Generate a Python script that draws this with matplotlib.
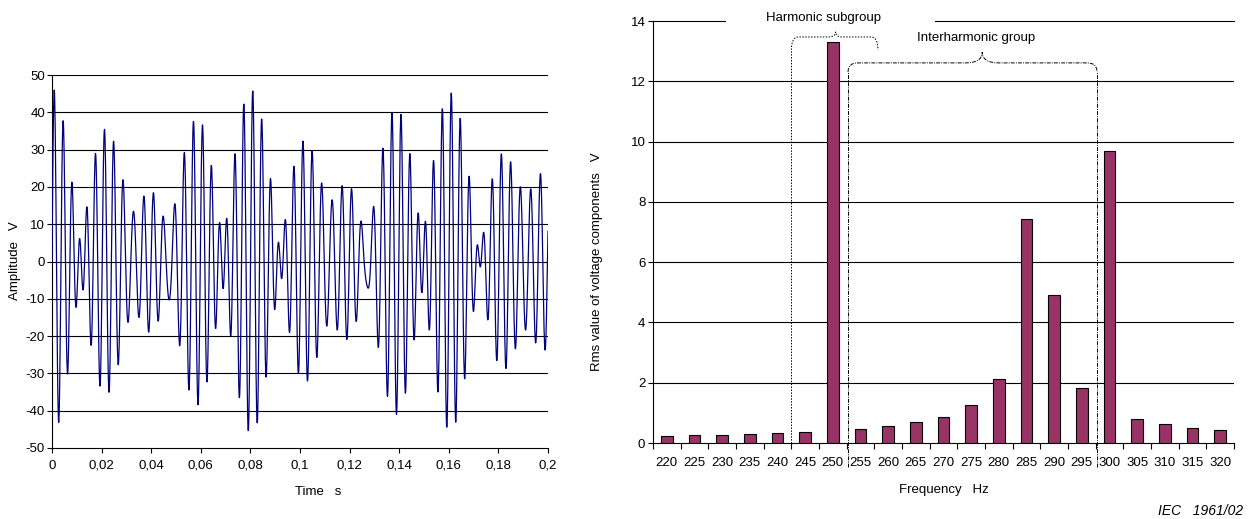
import numpy as np
import matplotlib
matplotlib.use("Agg")
import matplotlib.pyplot as plt
from matplotlib.path import Path
from matplotlib.patches import PathPatch

plt.rcParams['font.family'] = ['Liberation Sans', 'DejaVu Sans']
plt.rcParams['axes.unicode_minus'] = False

# ---- waveform components (frequency in Hz, rms value in V) ----
component_freqs = [250.0, 287.0, 300.0]
component_rms = [13.3, 9.75, 9.7]
t_end = 0.2
t_step = 0.0001

# ---- spectrum (5 Hz bins) ----
freq_bins = [220, 225, 230, 235, 240, 245, 250, 255, 260, 265, 270,
             275, 280, 285, 290, 295, 300, 305, 310, 315, 320]
rms_values = [0.24, 0.25, 0.28, 0.31, 0.33, 0.37, 13.31, 0.48, 0.56, 0.69, 0.87,
              1.25, 2.12, 7.44, 4.91, 1.83, 9.68, 0.80, 0.62, 0.51, 0.42]

time_ticks = [0, 0.02, 0.04, 0.06, 0.08, 0.1, 0.12, 0.14, 0.16, 0.18, 0.2]
time_labels = ["0", "0,02", "0,04", "0,06", "0,08", "0,1", "0,12", "0,14",
               "0,16", "0,18", "0,2"]

t = np.arange(0, t_end + t_step / 2, t_step)
u = np.zeros_like(t)
for f, r in zip(component_freqs, component_rms):
    u += np.sqrt(2) * r * np.sin(2 * np.pi * f * t)

FS = 9.5
fig = plt.figure(figsize=(12.5, 5.19), dpi=100)

# ---------------- time signal ----------------
ax1 = fig.add_axes([52 / 1250, (519 - 448) / 519, 496 / 1250, 373 / 519])
for yv in range(-40, 51, 10):
    ax1.axhline(yv, color='black', lw=0.8, zorder=1)
ax1.plot(t, u, color='#000080', lw=0.9, zorder=3)
ax1.set_xlim(0, 0.2)
ax1.set_ylim(-50, 50)
ax1.set_yticks(range(-50, 51, 10))
ax1.set_xticks(time_ticks)
ax1.set_xticklabels(time_labels)
for s in ['top', 'right']:
    ax1.spines[s].set_visible(False)
for s in ['left', 'bottom']:
    ax1.spines[s].set_linewidth(0.8)
ax1.tick_params(axis='both', direction='out', length=3.5, width=0.8, labelsize=FS)
ax1.tick_params(axis='x', pad=5)
ax1.tick_params(axis='y', pad=1.5)
fig.text(15 / 1250, 1 - 261 / 519, "Amplitude   V", rotation=90,
         ha='center', va='center', fontsize=FS)
fig.text(318 / 1250, 1 - 492 / 519, "Time   s", ha='center', va='center', fontsize=FS)

# ---------------- spectrum ----------------
ax2 = fig.add_axes([653 / 1250, (519 - 443) / 519, 581 / 1250, 422 / 519])
xpos = np.arange(len(freq_bins))
for yv in range(2, 13, 2):
    ax2.axhline(yv, color='black', lw=0.8, zorder=1)
ax2.plot([-0.5, 2.1], [14, 14], color='black', lw=0.8, clip_on=False, zorder=1)
ax2.plot([9.69, len(freq_bins) - 0.5], [14, 14], color='black', lw=0.8,
         clip_on=False, zorder=1)
ax2.bar(xpos, rms_values, width=0.42, color='#993366', edgecolor='black',
        linewidth=0.8, zorder=3)
ax2.set_xlim(-0.5, len(freq_bins) - 0.5)
ax2.set_ylim(0, 14)
ax2.set_yticks(range(0, 15, 2))
ax2.set_xticks(xpos)
ax2.set_xticklabels([str(f) for f in freq_bins])
ax2.set_xticks(np.arange(-0.5, len(freq_bins)), minor=True)
for s in ['top', 'right']:
    ax2.spines[s].set_visible(False)
for s in ['left', 'bottom']:
    ax2.spines[s].set_linewidth(0.8)
ax2.tick_params(axis='x', which='major', length=0, pad=10, labelsize=FS)
ax2.tick_params(axis='x', which='minor', direction='out', length=4, width=0.8)
ax2.tick_params(axis='y', direction='out', length=3.5, width=0.8, pad=2, labelsize=FS)
fig.text(597 / 1250, 1 - 262 / 519, "Rms value of voltage components   V",
         rotation=90, ha='center', va='center', fontsize=FS)
fig.text(944 / 1250, 1 - 490 / 519, "Frequency   Hz", ha='center', va='center',
         fontsize=FS)
fig.text(1243 / 1250, 1 - 511 / 519, "IEC   1961/02", ha='right', va='center',
         fontsize=10, style='italic')


def brace(ax, x0, x1, xm, y_base, y_top, y_peak, dx, dxm, ls):
    """Draw a curly group bracket in data coordinates."""
    verts = [
        (x0, y_base), (x0, y_top), (x0 + dx, y_top),
        (xm - dxm, y_top), (xm, y_top), (xm, y_peak),
        (xm, y_top), (xm + dxm, y_top),
        (x1 - dx, y_top), (x1, y_top), (x1, y_base),
    ]
    codes = [Path.MOVETO, Path.CURVE3, Path.CURVE3,
             Path.LINETO, Path.CURVE3, Path.CURVE3,
             Path.CURVE3, Path.CURVE3,
             Path.LINETO, Path.CURVE3, Path.CURVE3]
    ax.add_patch(PathPatch(Path(verts, codes), fill=False, lw=0.7,
                           ls=ls, edgecolor='black', clip_on=False, zorder=4))


# Harmonic subgroup: 245 .. 255 Hz
brace(ax2, 4.5, 7.63, 6.1, 13.04, 13.47, 13.64, 0.25, 0.25, (0, (1.5, 1.5)))
ax2.plot([4.5, 4.5], [0, 13.04], color='black', lw=0.7, ls=(0, (1.5, 1.5)),
         clip_on=False, zorder=4)
ax2.text(5.68, 14.1, "Harmonic subgroup", ha='center', va='center', fontsize=FS)

# Interharmonic group: 255 .. 295 Hz
dashdot = (0, (4, 1.2, 1, 1.2))
brace(ax2, 6.55, 15.55, 11.4, 12.31, 12.61, 12.97, 0.35, 0.6, dashdot)
for xv in (6.55, 15.55):
    ax2.plot([xv, xv], [-0.8, 12.31], color='black', lw=0.7, ls=dashdot,
             clip_on=False, zorder=4)
ax2.text(11.17, 13.44, "Interharmonic group", ha='center', va='center', fontsize=FS)

fig.savefig("out.png", dpi=100)
